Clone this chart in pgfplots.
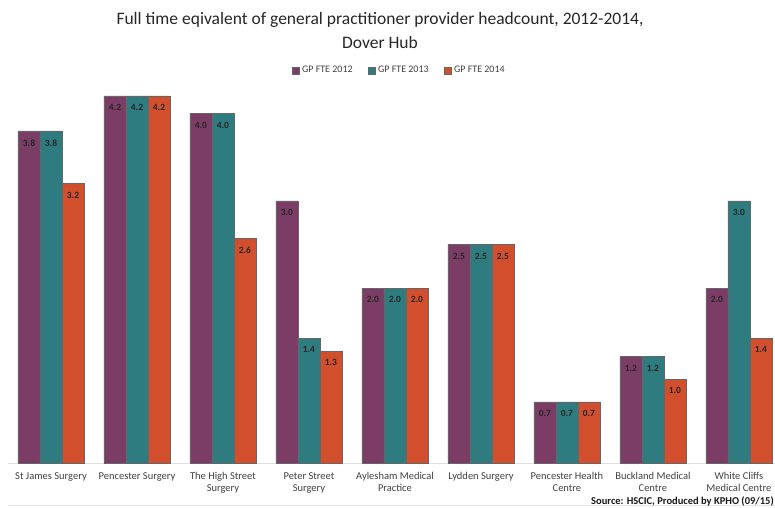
\documentclass[border=0pt]{standalone}
\usepackage{pgfplots}
\pgfplotsset{compat=1.18}
\usepackage{fontspec}
\setmainfont{Carlito}
\definecolor{cpur}{HTML}{7B3C66}
\definecolor{cteal}{HTML}{2E7C80}
\definecolor{corg}{HTML}{D24F2E}
\definecolor{ctxt}{HTML}{404040}
\begin{document}
\begin{tikzpicture}[x=1pt,y=1pt]
\useasboundingbox (0,0) rectangle (775,-507);
\node[font=\fontsize{17.5}{24}\selectfont, text=black!85, align=center] at (380,-30)
  {Full time eqivalent of general practitioner provider headcount, 2012-2014,\\Dover Hub};
\begin{axis}[
  at={(8pt,-463pt)}, anchor=south west,
  scale only axis, width=767pt, height=400pt,
  xmin=-0.5, xmax=8.42, ymin=0, ymax=4.577,
  ybar=0pt, bar width=22pt,
  axis y line=none, axis x line*=bottom,
  axis line style={black!12, line width=1pt},
  xtick={0,...,8}, major tick length=0pt,
  xticklabels={St James Surgery, Pencester Surgery, The High Street\\Surgery, Peter Street\\Surgery, Aylesham Medical\\Practice, Lydden Surgery, Pencester Health\\Centre, Buckland Medical\\Centre, White Cliffs\\Medical Centre},
  xticklabel style={align=center, font=\fontsize{10.5}{12}\selectfont, text=ctxt, yshift=-6pt},
  nodes near coords,
  every node near coord/.append style={anchor=north, yshift=-5pt, font=\fontsize{9.5}{10}\selectfont\bfseries, text=black!85},
  /pgf/number format/.cd, fixed, fixed zerofill, precision=1, assume math mode=true, /pgfplots/.cd,
  legend columns=3,
  legend style={at={(0.51,0.982)}, anchor=center, draw=none, font=\fontsize{10}{11}\selectfont, text=ctxt, column sep=1pt, /tikz/every even column/.append style={column sep=13pt}},
  legend image code/.code={\fill[#1] (0pt,-3.5pt) rectangle (7pt,3.5pt);},
  clip=false,
]
\addplot[fill=cpur, draw=black!60, line width=0.4pt] coordinates {(0,3.8) (1,4.2) (2,4.0) (3,3.0) (4,2.0) (5,2.5) (6,0.7) (7,1.22) (8,2.0)};
\addplot[fill=cteal, draw=black!60, line width=0.4pt] coordinates {(0,3.8) (1,4.2) (2,4.0) (3,1.43) (4,2.0) (5,2.5) (6,0.7) (7,1.22) (8,3.0)};
\addplot[fill=corg, draw=black!60, line width=0.4pt] coordinates {(0,3.2) (1,4.2) (2,2.57) (3,1.28) (4,2.0) (5,2.5) (6,0.7) (7,0.96) (8,1.43)};
\legend{GP FTE 2012, GP FTE 2013, GP FTE 2014}
\end{axis}
\draw[black!10, line width=1pt] (8,-505.5) -- (775,-505.5);
\node[anchor=base east, font=\fontsize{10.5}{12}\selectfont\bfseries, text=black!90, inner sep=0pt] at (774,-504) {Source: HSCIC, Produced by KPHO (09/15)};
\end{tikzpicture}
\end{document}
